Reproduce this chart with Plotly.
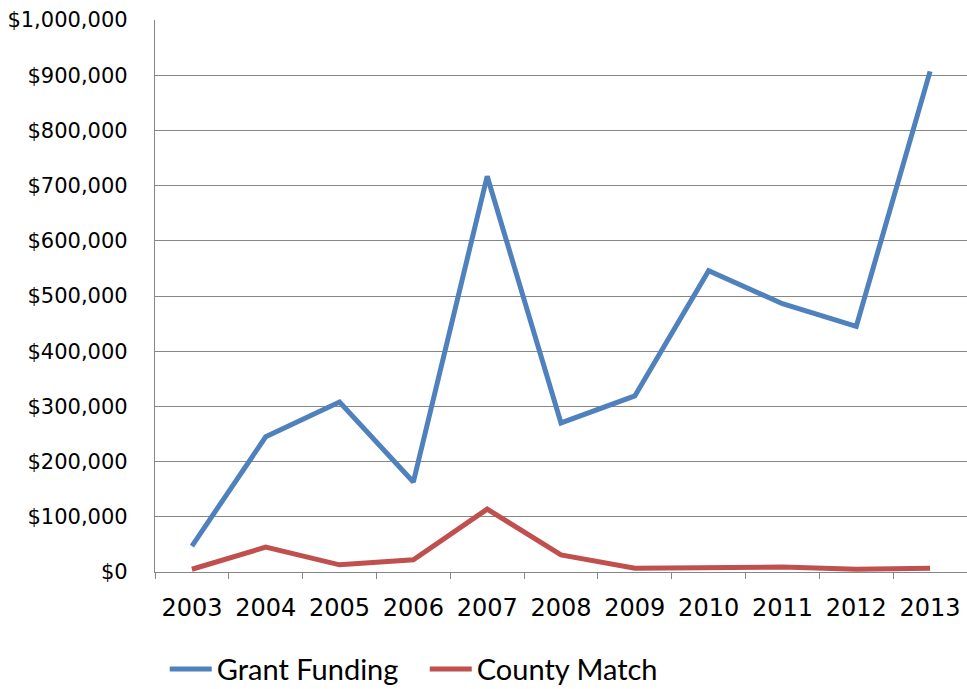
import plotly.graph_objects as go

years = ["2003", "2004", "2005", "2006", "2007", "2008", "2009", "2010", "2011", "2012", "2013"]
grant_funding = [47000, 245000, 308000, 163000, 717000, 270000, 319000, 546000, 486000, 445000, 907000]
county_match = [5000, 45000, 13000, 22000, 114000, 31000, 7000, 9000, 9000, 5000, 7000]

y_ticks = list(range(0, 1000001, 100000))
y_labels = ["$0"] + [f"${v:,}" for v in y_ticks[1:]]

fig = go.Figure()
fig.add_trace(go.Scatter(x=years, y=grant_funding, name="Grant Funding", mode="lines",
                         line=dict(color="#4F81BD", width=5)))
fig.add_trace(go.Scatter(x=years, y=county_match, name="County Match", mode="lines",
                         line=dict(color="#C0504D", width=5)))

fig.update_layout(
    width=967, height=689,
    margin=dict(l=155, r=0, t=20, b=117, autoexpand=False),
    paper_bgcolor="white", plot_bgcolor="white",
    font=dict(family="DejaVu Sans", color="black"),
    showlegend=True,
    legend=dict(orientation="h", x=0.012, y=-0.176, xanchor="left", yanchor="middle",
                font=dict(family="Lato", size=29, color="black"), itemwidth=42,
                entrywidth=203, entrywidthmode="pixels",
                bgcolor="rgba(0,0,0,0)"),
    xaxis=dict(type="category", tickson="boundaries", ticks="outside", ticklen=6,
               tickcolor="#868686", tickwidth=1.3, showgrid=False,
               showline=True, linecolor="#868686", linewidth=1.3,
               tickfont=dict(size=24), ticklabelstandoff=14, range=[-0.5, 10.5]),
    yaxis=dict(range=[0, 1000000], tickvals=y_ticks, ticktext=y_labels,
               showgrid=True, gridcolor="#868686", gridwidth=1.3,
               showline=True, linecolor="#868686", linewidth=1.3,
               ticks="", tickfont=dict(size=21), ticklabelstandoff=22,
               zeroline=False),
)

fig.write_html("out.html")
